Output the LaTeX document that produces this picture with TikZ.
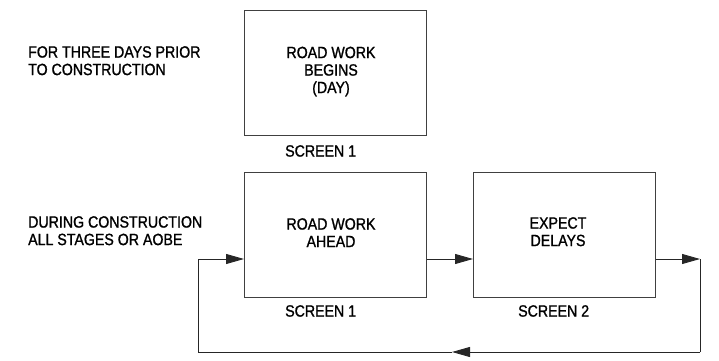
\documentclass[tikz,border=0pt]{standalone}
\usepackage{fontspec}
\setmainfont{Liberation Sans}[FakeStretch=0.87,FakeBold=1.2]
\usetikzlibrary{arrows.meta}
\begin{document}
\begin{tikzpicture}[x=1pt,y=-1pt,
  box/.style={draw=black!75,line width=1pt,minimum width=182pt,minimum height=125pt,inner sep=0pt},
  lbl/.style={inner sep=0pt,font=\fontsize{16.3}{17.5}\selectfont},
  conn/.style={draw=black!85,line width=0.9pt},
  arr/.style={conn,-{Triangle[length=18pt,width=10pt]}}]
\useasboundingbox (0,0) rectangle (719,360);
% boxes
\node[box,anchor=north west] (top) at (244,9.5) {};
\node[box,anchor=north west] (b1) at (244,172) {};
\node[box,anchor=north west] (b2) at (473,172) {};
% left labels
\node[lbl,anchor=north west,align=left] (l1) at (28,46) {FOR THREE DAYS PRIOR\\TO CONSTRUCTION};
\node[lbl,anchor=north west,align=left] (l2) at (28,216) {DURING CONSTRUCTION\\ALL STAGES OR AOBE};
% box texts
\node[lbl,anchor=north,align=center] (t1) at (331,46.5) {ROAD WORK\\BEGINS\\(DAY)};
\node[lbl,anchor=north,align=center] (t2) at (331,218) {ROAD WORK\\AHEAD};
\node[lbl,anchor=north,align=center] (t3) at (558,217) {EXPECT\\DELAYS};
% screen labels
\node[lbl,anchor=north west] (s0) at (285,145) {SCREEN 1};
\node[lbl,anchor=north west] (s1) at (285,305) {SCREEN 1};
\node[lbl,anchor=north west] (s2) at (518,305) {SCREEN 2};
% connectors
\coordinate (c1) at (700,259);
\coordinate (c2) at (700,352);
\coordinate (m) at (452,352);
\coordinate (c3) at (198,352);
\coordinate (c4) at (198,259);
\draw[arr] (b1.east |- c1) -- (b2.west |- c1);
\draw[arr] (b2.east |- c1) -- (c1);
\draw[conn] (c1) -- (c2);
\draw[arr] (c2) -- (m);
\draw[conn] (m) -- (c3) -- (c4);
\draw[arr] (c4) -- (b1.west |- c4);
\end{tikzpicture}
\end{document}
